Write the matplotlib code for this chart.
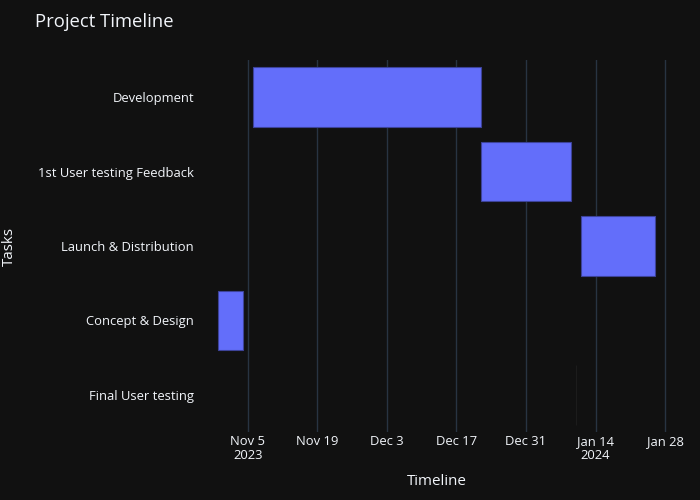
import numpy as np
import matplotlib.pyplot as plt
import matplotlib.dates as mdates
from datetime import datetime

# Task data (top to bottom as shown)
tasks = ["Development", "1st User testing Feedback", "Launch & Distribution",
         "Concept & Design", "Final User testing"]
starts = ["2023-11-06", "2023-12-22", "2024-01-11", "2023-10-30", "2024-01-10"]
ends = ["2023-12-22", "2024-01-09", "2024-01-26", "2023-11-04", "2024-01-10"]

tick_dates = ["2023-11-05", "2023-11-19", "2023-12-03", "2023-12-17",
              "2023-12-31", "2024-01-14", "2024-01-28"]
tick_labels = ["Nov 5\n2023", "Nov 19", "Dec 3", "Dec 17", "Dec 31", "Jan 14\n2024", "Jan 28"]

BG = "#111111"
GRID = "#283442"
TXT = "#f2f5fa"
BAR = "#636efa"

plt.rcParams['font.family'] = ['Open Sans', 'DejaVu Sans']

fig = plt.figure(figsize=(7, 5), dpi=100, facecolor=BG)
ax = fig.add_axes([196/700, 1 - 432/500, 481/700, 372/500], facecolor=BG)

s = mdates.date2num([datetime.fromisoformat(d) for d in starts])
e = mdates.date2num([datetime.fromisoformat(d) for d in ends])
ypos = np.arange(len(tasks))

# zero-length tasks only show as a faint sliver
edges = ["#3d4399" if w > 0 else "#1c1c1c" for w in (e - s)]
ax.barh(ypos, e - s, left=s, height=0.8, color=BAR, edgecolor=edges,
        linewidth=0.8, zorder=3)

# autorange-like padding
lo, hi = s.min(), e.max()
pad = 0.05 * (hi - lo)
ax.set_xlim(lo - pad, hi + pad)
ax.set_ylim(len(tasks) - 0.5, -0.5)

ticks = mdates.date2num([datetime.fromisoformat(d) for d in tick_dates])
ax.set_xticks(ticks)
ax.set_xticklabels(tick_labels, color=TXT, fontsize=9.4, linespacing=1.1)
ax.set_yticks(ypos)
ax.set_yticklabels(tasks, color=TXT, fontsize=9.4)
ax.tick_params(axis='both', length=0)
ax.tick_params(axis='y', pad=1.5)
ax.tick_params(axis='x', pad=2)

ax.grid(axis='x', color=GRID, linewidth=1, zorder=0)
for sp in ax.spines.values():
    sp.set_visible(False)

ax.set_xlabel("Timeline", color=TXT, fontsize=10.9)
ax.set_ylabel("Tasks", color=TXT, fontsize=10.9)
ax.xaxis.label.set_va('center')
ax.yaxis.label.set_va('center')
ax.xaxis.set_label_coords(0.5, -0.134)
ax.yaxis.set_label_coords(-0.387, 0.5)

fig.text(35/700, 1 - 22/500, "Project Timeline", color=TXT, fontsize=13.3,
         ha='left', va='center')

fig.savefig("out.png", dpi=100, facecolor=BG)
